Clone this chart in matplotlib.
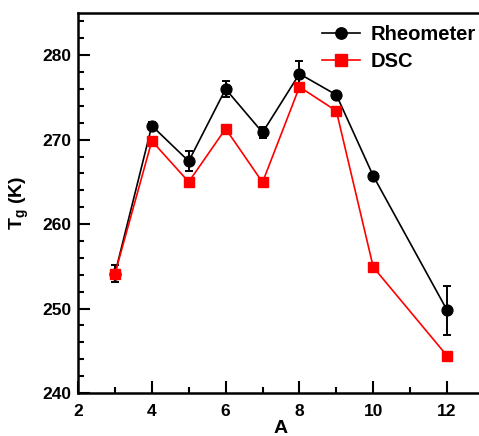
import numpy as np
import matplotlib
matplotlib.use("Agg")
import matplotlib.pyplot as plt
from matplotlib.ticker import MultipleLocator
from matplotlib.lines import Line2D

plt.rcParams['font.family'] = ['Liberation Sans', 'DejaVu Sans']
plt.rcParams['font.weight'] = 'bold'

# data
a_vals = [3, 4, 5, 6, 7, 8, 9, 10, 12]
tg_rheo = [254.1, 271.65, 267.45, 276.0, 270.85, 277.8, 275.3, 265.7, 249.8]
tg_rheo_err = [1.0, 0.4, 1.15, 1.0, 0.6, 1.5, 0.3, 0.3, 2.9]
tg_dsc = [254.1, 269.85, 265.0, 271.3, 264.95, 276.25, 273.4, 254.9, 244.4]

fig = plt.figure(figsize=(4.79, 4.36), dpi=100)
W, H = 479, 436
# axes box in pixels: left 78, right 484 (runs past the picture), top 13, bottom 393
ax = fig.add_axes([78 / W, 1 - 393 / H, (484 - 78) / W, (393 - 13) / H])

ax.errorbar(a_vals, tg_rheo, yerr=tg_rheo_err, color='black', marker='o',
            markersize=7.8, linewidth=1.2, elinewidth=1.4, capsize=2.8,
            capthick=1.4, zorder=2)
ax.plot(a_vals, tg_dsc, color='#ff0000', marker='s', markersize=7.8,
        linewidth=1.2, zorder=3)

ax.set_xlim(2, 13)
ax.set_ylim(240, 285)
ax.xaxis.set_minor_locator(MultipleLocator(1))
ax.yaxis.set_major_locator(MultipleLocator(10))
ax.yaxis.set_minor_locator(MultipleLocator(2))
ax.set_xticks([2, 4, 6, 8, 10, 12])

for s in ax.spines.values():
    s.set_linewidth(1.8)
ax.spines['right'].set_visible(False)

ax.tick_params(which='both', direction='in', top=False, right=False, width=1.5)
ax.tick_params(which='major', length=8.5, labelsize=12.5, pad=5)
ax.tick_params(which='minor', length=4.5)
ax.tick_params(axis='x', which='major', pad=8)
for lab in ax.get_xticklabels() + ax.get_yticklabels():
    lab.set_fontweight('bold')

ax.set_ylabel(r'T$_\mathregular{g}$ (K)', fontsize=14, fontweight='bold', labelpad=8)
ax.set_xlabel('A', fontsize=14, fontweight='bold', labelpad=0.5)

handles = [Line2D([], [], color='black', marker='o', markersize=8.2, linewidth=1.2),
           Line2D([], [], color='#ff0000', marker='s', markersize=8.2, linewidth=1.2)]
leg = fig.legend(handles, ['Rheometer', 'DSC'], loc='upper left',
                 bbox_to_anchor=(322 / W, 1 - 25 / H), frameon=False,
                 fontsize=14.5, handlelength=1.9, handletextpad=0.5,
                 labelspacing=0.38, borderpad=0, borderaxespad=0)
for t in leg.get_texts():
    t.set_fontweight('bold')

fig.savefig('out.png', dpi=100)
